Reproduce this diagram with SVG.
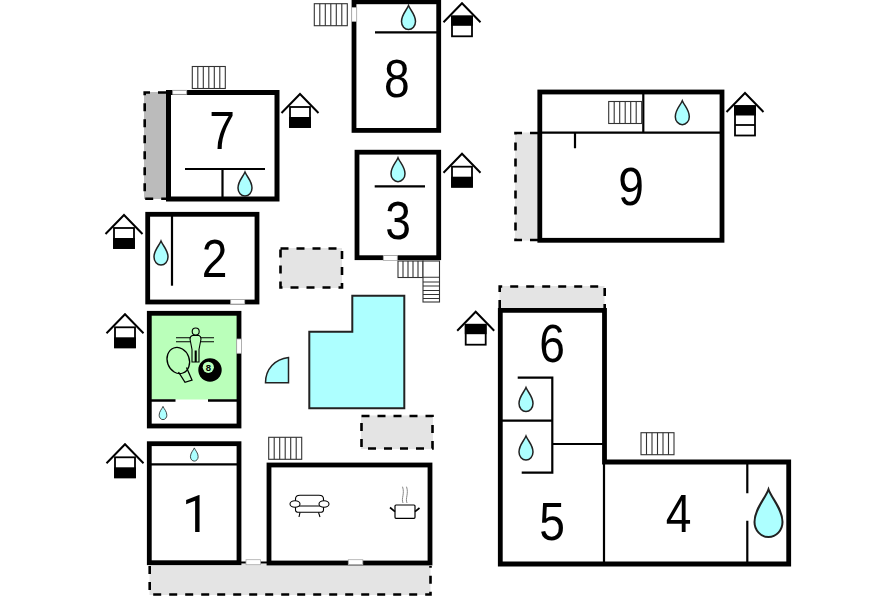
<svg xmlns="http://www.w3.org/2000/svg" width="896" height="597" viewBox="0 0 896 597">
<style>
.wall{fill:none;stroke:#000;stroke-width:4.8;stroke-linecap:square}
.in{fill:none;stroke:#000;stroke-width:2.2}
.tf{fill:#e4e4e4}
.td{fill:none;stroke:#000;stroke-width:2.6;stroke-dasharray:8 8}
.w{fill:#fff;stroke:#aaa;stroke-width:.8}
.n{font-family:"Liberation Sans",Arial,sans-serif;font-size:53px;fill:#000;text-anchor:middle}
.s{fill:#fff;stroke:#333;stroke-width:1.1}
.h{fill:none;stroke:#000;stroke-width:2}
.hw{fill:#fff;stroke:#000;stroke-width:1.8}
.p{fill:#adffff;stroke:#222;stroke-width:1.5}
</style>
<defs>
<path id="d" class="p" d="M0-12C2-7 7-3 7 4A7 8 0 0 1-7 4C-7-3-2-7 0-12Z"/>
<g id="r"><rect class="s" width="33" height="22"/><path class="s" d="M5.500 0V22M11 0V22M16.500 0V22M22 0V22M27.500 0V22"/></g>
<g id="hB"><path class="h" d="M-18.500 16L0 -3L18.500 16"/><rect class="hw" x="-10" y="10" width="20" height="20"/><rect x="-10.900" y="20" width="21.800" height="10.900" fill="#000"/></g>
<g id="hT"><path class="h" d="M-18.500 16L0 -3L18.500 16"/><rect class="hw" x="-10" y="10" width="20" height="20"/><rect x="-10.900" y="9.500" width="21.800" height="10" fill="#000"/></g>
</defs>
<g id="connectors"></g>

<g id="terraces">
<rect x="144" y="92" width="23" height="107" fill="#bbb"/>
<path class="td" d="M166 92.500H144.700V198.700H166"/>
<rect class="tf" x="280" y="248" width="62" height="40"/>
<rect class="td" x="280.500" y="248.500" width="61.500" height="39"/>
<rect class="tf" x="361" y="415.500" width="72" height="33.500"/>
<rect class="td" x="361.500" y="416" width="71" height="32.500"/>
<rect class="tf" x="515" y="132.500" width="24" height="108"/>
<path class="td" d="M538 133H515.500V240H538"/>
<rect class="tf" x="499.500" y="286" width="105" height="24"/>
<path class="td" d="M499.700 308V286.500H604.700V308"/>
<rect class="tf" x="149.500" y="564" width="281" height="31"/>
<path class="td" d="M149.700 566V594.500H430.500V566"/>
</g>

<g id="pool">
<path class="p" style="stroke-width:2" d="M352.300 295.700H404.300V408.300H309.300V331.700H352.300Z"/>
<path class="p" d="M288.500 357.500V382.800H265.500C265.500 369 275 359 288.500 357.500Z"/>
</g>

<g id="room7">
<rect class="wall" style="stroke-width:5" x="168.500" y="92.500" width="108.500" height="106.500"/>
<rect class="w" x="172.700" y="90.300" width="14" height="4"/>
<path class="in" d="M185 169H265M222.500 169V198"/>
<use href="#d" x="245" y="184"/>
<text class="n" transform="translate(222 148.500) scale(.87 1)">7</text>
<use href="#r" x="192.300" y="66.500"/>
<use href="#hB" x="300" y="97"/>
</g>

<g id="room2">
<rect class="wall" x="147.700" y="214.300" width="109.300" height="87.700"/>
<rect class="w" x="230.700" y="299.500" width="14" height="4.500"/>
<path class="in" d="M172 214V285.700"/>
<use href="#d" x="161" y="253"/>
<text class="n" transform="translate(214.500 276.500) scale(.87 1)">2</text>
<use href="#hB" x="124" y="218"/>
</g>

<g id="room8">
<rect class="wall" x="354" y="1.800" width="84.700" height="128.600"/>
<rect class="w" x="351.700" y="7.500" width="5" height="14"/>
<path class="in" d="M375 32.300H438"/>
<use href="#d" x="408.500" y="17.500"/>
<text class="n" transform="translate(396.700 96.500) scale(.87 1)">8</text>
<use href="#r" x="314.300" y="3.700"/>
<use href="#hT" x="462" y="6.300"/>
</g>

<g id="room3">
<rect class="wall" x="357" y="152.200" width="81.700" height="105.500"/>
<rect class="w" x="383.300" y="255.500" width="14" height="5"/>
<path class="in" d="M374.700 186.300H425"/>
<use href="#d" x="398" y="169.700"/>
<text class="n" transform="translate(398 238.500) scale(.87 1)">3</text>
<rect class="s" x="398" y="261" width="25" height="16.500"/>
<path class="s" d="M403 261V277.500M408 261V277.500M413 261V277.500M418 261V277.500"/>
<rect class="s" x="423" y="261" width="16.500" height="41"/>
<path class="s" d="M423 277.300H439.500M423 282H439.500M423 286H439.500M423 290.500H439.500M423 294.500H439.500M423 298.500H439.500"/>
<use href="#hB" x="462" y="156.700"/>
</g>

<g id="room9">
<rect class="wall" x="539.800" y="92" width="182.200" height="148.300"/>
<path class="in" d="M540 132.700H721.500M643.300 92V132.700M575 132.700V148.300"/>
<use href="#r" x="608.700" y="101.500"/>
<use href="#d" x="682.300" y="112.700"/>
<text class="n" transform="translate(631 205) scale(.87 1)">9</text>
<g><path class="h" d="M-18.500 16L0 -3L18.500 16" transform="translate(745 96)"/><rect class="hw" x="735" y="106" width="20" height="29.500"/><rect x="734" y="105.500" width="22" height="10" fill="#000"/><path d="M735 125H755" stroke="#000" stroke-width="1.800"/></g>
</g>

<g id="room654">
<path class="wall" d="M500.300 310.300H604.500V462H788.700V564H500.300Z"/>
<path class="in" d="M517.700 377.700H552.300V472.700H521.700M500 420.700H552.300M552.300 444H604M604 463V564M747.300 464V493.300M747.300 520.700V564"/>
<use href="#d" x="526" y="399.500"/>
<use href="#d" x="526" y="448"/>
<text class="n" transform="translate(552 362) scale(.87 1)">6</text>
<text class="n" transform="translate(552 540) scale(.87 1)">5</text>
<text class="n" transform="translate(678.500 531.700) scale(.87 1)">4</text>
<path class="p" style="stroke-width:2" d="M768.500 489.300C772 499 782.500 509 782.500 522A14 15 0 0 1 754.500 522C754.500 509 765 499 768.500 489.300Z"/>
<use href="#hT" x="475.700" y="314.700"/>
<use href="#r" x="641" y="432.700"/>
</g>

<g id="roomGreen">
<rect x="149" y="313" width="90" height="113" fill="#fff"/>
<rect x="149" y="313" width="90" height="86.500" fill="#baffba"/>
<rect class="wall" x="149.300" y="313.300" width="89.700" height="112.700"/>
<rect class="w" x="236.700" y="339" width="4.700" height="14.300"/>
<path d="M151 400.500H175.500M208 400.500H237" stroke="#000" stroke-width="2.400"/>
<use href="#d" transform="translate(163 413) scale(.55)"/>
<g id="foosball" fill="none" stroke="#000" stroke-width="1.100">
<path d="M176 337.800H190.500M200.500 337.800H214M176 341.700H190.500M200.500 341.700H214"/>
<circle cx="195.700" cy="331.500" r="3.500"/>
<path d="M192.500 335.500H199C200.500 336 201 337 201 339L199 349.500V362H196.200V351H195.200V362H192V349.500L190 339C190 337 191 336 192.500 335.500Z"/>
</g>
<g id="paddle" fill="none" stroke="#000" stroke-width="1.300">
<ellipse cx="178.300" cy="360.500" rx="11" ry="13.300" transform="rotate(-20 178.300 360.500)"/>
<path d="M186.500 367.500L192 380L185 382.300L178.500 372"/>
</g>
<circle cx="210" cy="370" r="11.700" fill="#000"/>
<circle cx="208.300" cy="367.300" r="5.600" fill="#baffba"/>
<text x="208.300" y="370.700" font-family="Liberation Sans,Arial,sans-serif" font-size="9.500" font-weight="bold" text-anchor="middle" fill="#000">8</text>
<use href="#hB" x="125" y="317.300"/>
</g>

<g id="room1">
<rect class="wall" x="149.300" y="443.700" width="89.700" height="119"/>
<path class="in" d="M150 464.300H238"/>
<use href="#d" transform="translate(194.300 454.500) scale(.55)"/>
<text class="n" style="font-family:Roboto,'Liberation Sans',sans-serif;font-size:52px" transform="translate(196 531.700) scale(.95 1)">1</text>
<use href="#hB" x="125" y="447.300"/>
</g>

<g id="roomLiving">
<rect class="wall" x="269" y="465" width="161" height="98"/>
<path d="M240 562.500H268" stroke="#000" stroke-width="2"/>
<rect class="w" x="246" y="559.700" width="14.500" height="5"/>
<rect class="w" x="348.300" y="559.700" width="14.500" height="5"/>
<use href="#r" x="268.700" y="437.300"/>
<g id="sofa" fill="#fff" stroke="#000" stroke-width="1.100">
<path d="M295.500 504V499C295.500 496 298 495.300 300 495.300H319C321 495.300 323.500 496 323.500 499V504"/>
<path d="M295.500 506H323.500V510C323.500 511.500 322 512.300 320 512.300H299C297 512.300 295.500 511.500 295.500 510Z"/>
<ellipse cx="295" cy="504" rx="5" ry="3.300"/><ellipse cx="324" cy="504" rx="5" ry="3.300"/>
<path d="M300 512.300L299 517M318.500 512.300L320 517"/>
</g>
<g id="pot" fill="none">
<rect x="395" y="505" width="20" height="13.300" rx="1" fill="#fff" stroke="#000" stroke-width="1.200"/>
<path d="M395 511.700L390 507.500M415 511.700L419.500 508" stroke="#000" stroke-width="1.700"/>
<path d="M403 503C401 498 405 494 402.500 486.700M407 503C405 498 409 494 406.500 486.700" stroke="#888" stroke-width="1"/>
</g>
</g>
</svg>
